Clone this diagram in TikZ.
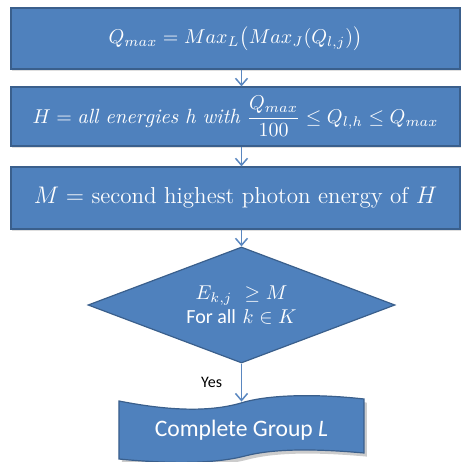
\documentclass[tikz,border=0pt]{standalone}
\usepackage{amsmath}
\usepackage{fontspec}
\newfontfamily\calibri{Carlito}
\usetikzlibrary{shapes.geometric,arrows.meta,shadows}
\definecolor{boxblue}{RGB}{79,129,189}
\definecolor{boxedge}{RGB}{58,95,140}
\definecolor{arrowblue}{RGB}{90,135,192}
\begin{document}
\begin{tikzpicture}[x=0.5pt, y=-0.5pt,
    stepbox/.style = {rectangle, fill = boxblue, draw = boxedge, line width = 0.6pt,
        minimum width = 224.5pt, text = white, inner sep = 0pt,
        drop shadow = {opacity = 0.25, shadow xshift = 0.7pt, shadow yshift = -0.9pt},
        font = \fontsize{11.5}{14}\selectfont},
    testbox/.style = {diamond, fill = boxblue, draw = boxedge, line width = 0.6pt,
        aspect = 2.65, inner sep = 0pt, minimum width = 153.5pt, minimum height = 58pt,
        text = white, align = center, font = \fontsize{10}{12}\selectfont},
    flow/.style = {arrowblue, line width = 0.75pt, -{Straight Barb[length = 3.5pt, width = 6pt]}}]
    \useasboundingbox (0,0) rectangle (462,462);
        \node[stepbox, minimum height = 30.5pt, font = \fontsize{10}{12}\selectfont] (qmax) at (235.5,38.5)
            {$Q_{max} = Max_L\bigl(Max_J(Q_{l,j})\bigr)$};
        \node[stepbox, minimum height = 29.5pt, font = \fontsize{10.3}{12}\selectfont] (hset) at (235.5,116.5)
            {$H = \mathit{all\ energies\ h\ with}\ \dfrac{Q_{max}}{100} \le Q_{l,h} \le Q_{max}$};
        \node[stepbox, minimum height = 31pt] (mval) at (235.5,198)
            {$M =$ second highest photon energy of $H$};
        \node[testbox] (test) at (241.5,305)
            {$E_{k,j}\ \ge M$\\{\calibri For all} $k \in K$};
        % punched tape end shape
        \node[minimum width = 122pt, minimum height = 28pt, inner sep = 0pt] (done) at (241.5,430) {};
        \fill[black, opacity = 0.2, xshift = 1.4, yshift = -1.8]
            (119,401) .. controls (170,411) and (210,412) .. (241,403)
            .. controls (270,394) and (320,394) .. (364,399) -- (364,453)
            .. controls (320,449) and (275,448) .. (245,456)
            .. controls (210,465) and (160,463) .. (119,459) -- cycle;
        \filldraw[fill = boxblue, draw = boxedge, line width = 0.6pt]
            (119,401) .. controls (170,411) and (210,412) .. (241,403)
            .. controls (270,394) and (320,394) .. (364,399) -- (364,453)
            .. controls (320,449) and (275,448) .. (245,456)
            .. controls (210,465) and (160,463) .. (119,459) -- cycle;
        \node[text = white, font = \calibri\fontsize{11.8}{14}\selectfont] (donetext) at (done)
            {Complete Group \textit{L}};
        \draw[flow] (qmax.south -| test.north) -- (hset.north -| test.north);
        \draw[flow] (hset.south -| test.north) -- (mval.north -| test.north);
        \draw[flow] (mval.south -| test.north) -- (test.north);
        \draw[flow] (test.south) -- node[left = 6pt, text = black, font = \calibri\fontsize{8}{10}\selectfont] (yes) {Yes} (done.north);
    \end{tikzpicture}
\end{document}
